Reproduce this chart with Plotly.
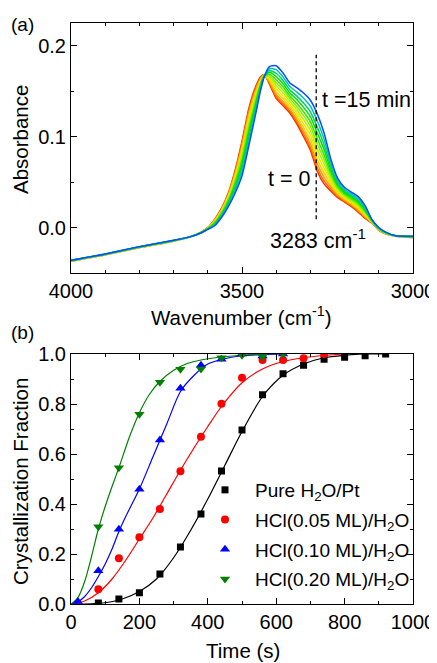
import numpy as np
import plotly.graph_objects as go

# ---------------- Panel (a): IR spectra ----------------
wavenumber = [4000, 3900, 3800, 3700, 3650, 3620, 3600, 3580, 3560, 3540, 3520, 3500,
              3480, 3460, 3445, 3435, 3420, 3400, 3380, 3360, 3340, 3320, 3300, 3280,
              3260, 3240, 3220, 3200, 3180, 3160, 3140, 3120, 3100, 3080, 3050, 3000]
absorb_t0 = [-0.037, -0.030, -0.022, -0.015, -0.010, -0.005, 0.000, 0.009, 0.021, 0.038, 0.063, 0.095,
             0.131, 0.155, 0.166, 0.168, 0.158, 0.142, 0.134, 0.126, 0.114, 0.100, 0.085, 0.062,
             0.048, 0.040, 0.033, 0.028, 0.023, 0.017, 0.010, 0.005, -0.003, -0.007, -0.0095, -0.011]
absorb_t15 = [-0.036, -0.029, -0.021, -0.014, -0.010, -0.006, -0.002, 0.002, 0.011, 0.023, 0.038, 0.057,
              0.090, 0.125, 0.152, 0.166, 0.177, 0.178, 0.170, 0.159, 0.154, 0.148, 0.140, 0.125,
              0.104, 0.075, 0.054, 0.044, 0.039, 0.034, 0.024, 0.009, 0.000, -0.005, -0.009, -0.0095]
# fraction of the change reached by each intermediate spectrum (t = 0 ... 15 min)
spectrum_fractions = [0, 0.06, 0.13, 0.21, 0.30, 0.39, 0.48, 0.57, 0.67, 0.77, 0.88, 1.0]
spectrum_colors = ['#ff2a00', '#ff6a00', '#ffa000', '#ffd000', '#e8e800', '#b8f000',
                   '#80f000', '#40e000', '#00e000', '#00d060', '#00c0c0', '#0050ff']
marker_wn = 3283
marker_line_abs = [0.009, 0.19]

# ---------------- Panel (b): crystallization kinetics ----------------
t_pure = [80, 140, 200, 260, 320, 380, 440, 500, 560, 620, 680, 740, 800, 860, 920]
f_pure = [0.004, 0.02, 0.045, 0.12, 0.228, 0.36, 0.532, 0.696, 0.837, 0.921, 0.955, 0.979, 0.987, 0.993, 1.0]
t_005 = [80, 140, 200, 260, 320, 380, 440, 500, 560, 620, 680, 740]
f_005 = [0.059, 0.183, 0.267, 0.38, 0.531, 0.669, 0.801, 0.905, 0.976, 0.976, 0.983, 1.0]
t_010 = [20, 80, 140, 200, 260, 320, 380, 440, 500, 560, 620]
f_010 = [0.01, 0.133, 0.299, 0.459, 0.656, 0.863, 0.955, 0.979, 1.0, 0.992, 1.0]
t_020 = [80, 140, 200, 260, 320, 380, 440, 500, 560, 620]
f_020 = [0.309, 0.545, 0.759, 0.887, 0.939, 0.94, 0.985, 0.995, 0.99, 1.0]

fit_t_pure = [0, 60, 100, 150, 200, 250, 300, 350, 400, 450, 500, 560, 620, 680, 740, 800, 860, 920]
fit_f_pure = [0, 0.001, 0.005, 0.02, 0.05, 0.10, 0.185, 0.295, 0.42, 0.555, 0.69, 0.83, 0.915, 0.96, 0.985, 0.995, 1.0, 1.0]
fit_t_005 = [0, 40, 80, 120, 160, 200, 240, 280, 320, 360, 400, 440, 500, 560, 620, 680, 740, 800]
fit_f_005 = [0, 0.012, 0.045, 0.10, 0.175, 0.26, 0.345, 0.44, 0.535, 0.625, 0.71, 0.79, 0.885, 0.94, 0.97, 0.985, 0.994, 1.0]
fit_t_010 = [0, 20, 40, 60, 80, 100, 120, 140, 160, 200, 240, 280, 320, 360, 400, 440, 500, 560, 620]
fit_f_010 = [0, 0.008, 0.03, 0.065, 0.11, 0.16, 0.22, 0.29, 0.35, 0.46, 0.59, 0.72, 0.85, 0.915, 0.96, 0.978, 0.993, 0.998, 1.0]
fit_t_020 = [0, 20, 40, 60, 80, 100, 120, 140, 170, 200, 230, 260, 300, 340, 380, 440, 500, 560]
fit_f_020 = [0, 0.025, 0.09, 0.19, 0.30, 0.39, 0.47, 0.545, 0.665, 0.765, 0.84, 0.89, 0.935, 0.962, 0.976, 0.988, 0.995, 1.0]

series = [
    ("Pure H<sub>2</sub>O/Pt", t_pure, f_pure, fit_t_pure, fit_f_pure, "black", "square", 7),
    ("HCl(0.05 ML)/H<sub>2</sub>O", t_005, f_005, fit_t_005, fit_f_005, "#ff0000", "circle", 8),
    ("HCl(0.10 ML)/H<sub>2</sub>O", t_010, f_010, fit_t_010, fit_f_010, "#0000ff", "triangle-up", 9),
    ("HCl(0.20 ML)/H<sub>2</sub>O", t_020, f_020, fit_t_020, fit_f_020, "#008000", "triangle-down", 9),
]

FONT = "Arial, Liberation Sans, sans-serif"
OFF = 8                     # page body margin of the browser
W, H = 437 - OFF, 663 - OFF
fig = go.Figure()

A0 = np.array(absorb_t0)
A1 = np.array(absorb_t15)
for frac, col in zip(spectrum_fractions, spectrum_colors):
    fig.add_trace(go.Scatter(x=wavenumber, y=(1 - frac) * A0 + frac * A1, mode="lines",
                             line=dict(color=col, width=1.5, shape="spline", smoothing=0.6),
                             xaxis="x", yaxis="y", showlegend=False, hoverinfo="skip"))

fig.add_trace(go.Scatter(x=[marker_wn, marker_wn], y=marker_line_abs, mode="lines",
                         line=dict(color="black", width=1.3, dash="4px,3px"),
                         xaxis="x", yaxis="y", showlegend=False))

for name, tx, fy, ftx, ffy, col, sym, sz in series:
    fig.add_trace(go.Scatter(x=ftx, y=ffy, mode="lines",
                             line=dict(color=col, width=1.2, shape="spline", smoothing=0.8),
                             xaxis="x2", yaxis="y2", showlegend=False, hoverinfo="skip"))
for i, (name, tx, fy, ftx, ffy, col, sym, sz) in enumerate(series):
    fig.add_trace(go.Scatter(x=tx, y=fy, mode="markers", name=name,
                             marker=dict(color=col, symbol=sym, size=sz, line=dict(width=0)),
                             xaxis="x2", yaxis="y2", legendgroup=f"g{i}"))

def px_x(p):
    return (p - OFF) / W

def px_y(p):
    return 1 - (p - OFF) / H

axis_common = dict(showline=True, linecolor="black", linewidth=1, mirror="ticks",
                   ticks="inside", ticklen=6, tickwidth=1, tickcolor="black",
                   showgrid=False, zeroline=False, automargin=False,
                   tickfont=dict(family=FONT, size=20, color="black"))

fig.update_layout(
    width=W, height=H, margin=dict(l=0, r=0, t=0, b=0, autoexpand=False),
    paper_bgcolor="white", plot_bgcolor="white",
    font=dict(family=FONT, color="black"),
    xaxis=dict(domain=[px_x(71), px_x(413)], range=[4000, 3000], dtick=500, anchor="y",
               minor=dict(dtick=100, ticks="inside", ticklen=3, tickcolor="black"), **axis_common),
    yaxis=dict(domain=[px_y(273), px_y(23)], range=[-0.05, 0.225], dtick=0.1, tick0=0,
               tickformat=".1f", anchor="x",
               minor=dict(dtick=0.05, ticks="inside", ticklen=3, tickcolor="black"), **axis_common),
    xaxis2=dict(domain=[px_x(71), px_x(413)], range=[0, 1000], dtick=200, anchor="y2",
                minor=dict(dtick=100, ticks="inside", ticklen=3, tickcolor="black"), **axis_common),
    yaxis2=dict(domain=[px_y(604), px_y(354)], range=[0, 1.0], dtick=0.2, tickformat=".1f",
                anchor="x2",
                minor=dict(dtick=0.1, ticks="inside", ticklen=3, tickcolor="black"), **axis_common),
    legend=dict(x=px_x(195), y=px_y(471), xanchor="left", yanchor="top",
                bgcolor="rgba(0,0,0,0)", font=dict(family=FONT, size=19, color="black"),
                tracegroupgap=2, itemwidth=50),
)

annots = [
    dict(text="(a)", x=px_x(9), y=px_y(25), xanchor="left", yanchor="middle", size=19),
    dict(text="(b)", x=px_x(9), y=px_y(332), xanchor="left", yanchor="middle", size=19),
    dict(text="Absorbance", x=px_x(20), y=px_y(140), xanchor="center", yanchor="middle", size=20.5, angle=-90),
    dict(text="Wavenumber (cm<sup>-1</sup>)", x=px_x(242), y=px_y(316), xanchor="center", yanchor="middle", size=20.5),
    dict(text="Crystallization Fraction", x=px_x(20), y=px_y(482), xanchor="center", yanchor="middle", size=20.5, angle=-90),
    dict(text="Time (s)", x=px_x(243), y=px_y(650), xanchor="center", yanchor="middle", size=20.5),
]
for a in annots:
    fig.add_annotation(text=a["text"], x=a["x"], y=a["y"], xref="paper", yref="paper",
                       xanchor=a["xanchor"], yanchor=a["yanchor"], showarrow=False,
                       textangle=a.get("angle", 0),
                       font=dict(family=FONT, size=a["size"], color="black"))

data_labels = [
    ("t =15 min", 3272, 0.140, "left"),
    ("t = 0", 3295, 0.053, "right"),
    ("3283 cm<sup>-1</sup>", 3424, -0.013, "left"),
]
for txt, xv, yv, anc in data_labels:
    fig.add_annotation(text=txt, x=xv, y=yv, xref="x", yref="y", xanchor=anc, yanchor="middle",
                       showarrow=False, xshift=0, font=dict(family=FONT, size=21.5, color="black"))

fig.write_html("out.html")
